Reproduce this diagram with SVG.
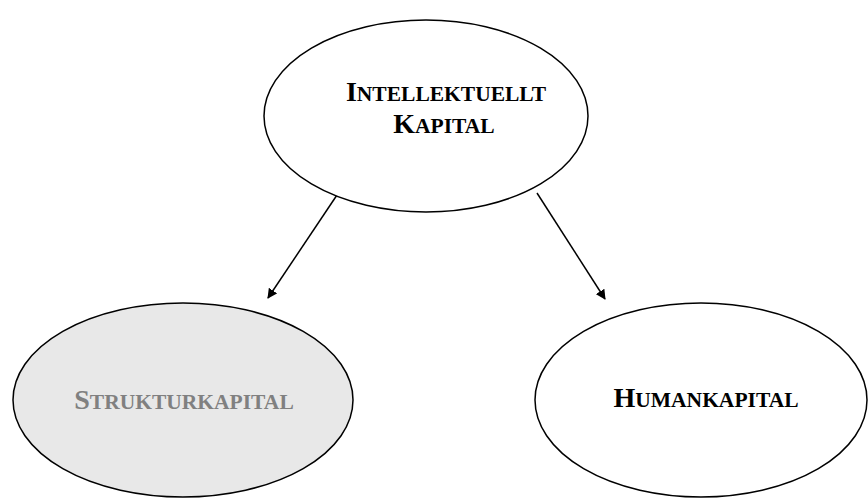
<svg xmlns="http://www.w3.org/2000/svg" width="868" height="498" viewBox="0 0 868 498">
<style>
.n{stroke:#000;stroke-width:1.5}
.t{font-family:"Liberation Serif","Times New Roman",serif;font-weight:bold;text-anchor:middle;font-size:21.5px}
.b{font-size:28px}
.c{stroke:#000;stroke-width:1.5;fill:none;marker-end:url(#ah)}
</style>
<defs>
<marker id="ah" markerWidth="10" markerHeight="10" refX="9" refY="5" orient="auto" markerUnits="userSpaceOnUse">
<path d="M0,0 L10,5 L0,10 z" fill="#000"/>
</marker>
</defs>
<rect width="868" height="498" fill="#fff"/>
<g id="connectors">
<line class="c" x1="337" y1="195" x2="268" y2="298"/>
<line class="c" x1="537" y1="193" x2="605" y2="299"/>
</g>
<g id="intellektuellt">
<ellipse class="n" cx="426" cy="116" rx="162" ry="96" fill="#fff"/>
<text class="t" x="446" y="101"><tspan class="b">I</tspan>NTELLEKTUELLT</text>
<text class="t" x="444" y="133"><tspan class="b">K</tspan>APITAL</text>
</g>
<g id="struktur">
<ellipse class="n" cx="183" cy="400" rx="170" ry="97" fill="#e8e8e8"/>
<text class="t" x="184" y="409" fill="#808080"><tspan class="b">S</tspan>TRUKTURKAPITAL</text>
</g>
<g id="human">
<ellipse class="n" cx="701" cy="400" rx="166" ry="97" fill="#fff"/>
<text class="t" x="706" y="407"><tspan class="b">H</tspan>UMANKAPITAL</text>
</g>
</svg>
